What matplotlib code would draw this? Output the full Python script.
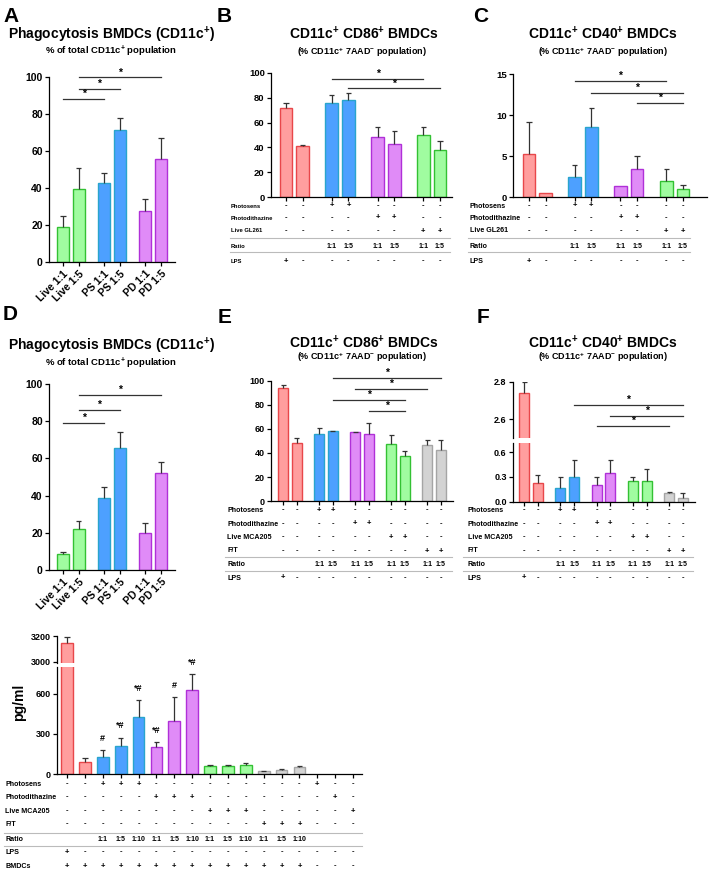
import matplotlib
matplotlib.use('Agg')
import matplotlib.pyplot as plt
from matplotlib.lines import Line2D
from matplotlib.transforms import blended_transform_factory

plt.rcParams['font.family'] = ['Liberation Sans', 'DejaVu Sans']
plt.rcParams['font.weight'] = 'bold'
plt.rcParams['mathtext.fontset'] = 'custom'
plt.rcParams['mathtext.rm'] = 'Liberation Sans:bold'
plt.rcParams['mathtext.it'] = 'Liberation Sans:bold'
plt.rcParams['mathtext.bf'] = 'Liberation Sans:bold'
plt.rcParams['axes.linewidth'] = 0.9

# ---------------- data ----------------
phago_labels = ['Live 1:1', 'Live 1:5', 'PS 1:1', 'PS 1:5', 'PD 1:1', 'PD 1:5']
phago_colors = ['g', 'g', 'b', 'b', 'p', 'p']
a_vals = [18.7, 39.3, 42.5, 71.6, 27.5, 55.5]
a_sem = [6.3, 11.3, 5.5, 6.4, 6.6, 11.3]
a_sig = [(0, 2, 88.0), (1, 3, 93.5), (1, 5, 99.8)]
d_vals = [8.4, 21.9, 38.5, 65.4, 20.1, 52.0]
d_sem = [1.5, 4.4, 6.1, 9.0, 5.0, 6.0]
d_sig = [(0, 2, 78.9), (1, 3, 86.0), (1, 5, 94.1)]

gl_colors = ['r', 'r', 'b', 'b', 'p', 'p', 'g', 'g']
gl_rows = [
    ('Photosens', ['-', '-', '+', '+', '-', '-', '-', '-']),
    ('Photodithazine', ['-', '-', '-', '-', '+', '+', '-', '-']),
    ('Live GL261', ['-', '-', '-', '-', '-', '-', '+', '+']),
    ('Ratio', ['', '', '1:1', '1:5', '1:1', '1:5', '1:1', '1:5']),
    ('LPS', ['+', '-', '-', '-', '-', '-', '-', '-']),
]
b_vals = [72.0, 41.3, 75.5, 78.0, 48.1, 42.4, 49.7, 37.8]
b_sem = [3.5, 0.5, 7.1, 5.7, 8.7, 11.1, 6.6, 7.0]
b_sig = [(2, 6, 95.1), (3, 7, 87.5)]
c_vals = [5.2, 0.53, 2.45, 8.5, 1.35, 3.47, 2.0, 1.02]
c_sem = [4.0, 0.0, 1.45, 2.3, 0.0, 1.47, 1.39, 0.41]
c_sig = [(2, 6, 14.2), (3, 7, 12.65), (5, 7, 11.47)]

mca_colors = ['r', 'r', 'b', 'b', 'p', 'p', 'g', 'g', 'k', 'k']
mca_rows = [
    ('Photosens', ['-', '-', '+', '+', '-', '-', '-', '-', '-', '-']),
    ('Photodithazine', ['-', '-', '-', '-', '+', '+', '-', '-', '-', '-']),
    ('Live MCA205', ['-', '-', '-', '-', '-', '-', '+', '+', '-', '-']),
    ('F/T', ['-', '-', '-', '-', '-', '-', '-', '-', '+', '+']),
    ('Ratio', ['', '', '1:1', '1:5', '1:1', '1:5', '1:1', '1:5', '1:1', '1:5']),
    ('LPS', ['+', '-', '-', '-', '-', '-', '-', '-', '-', '-']),
]
e_vals = [94.4, 48.3, 56.1, 58.1, 57.3, 55.9, 47.5, 37.2, 46.4, 42.7]
e_sem = [2.2, 4.2, 4.8, 0.6, 0.5, 9.2, 7.5, 4.7, 4.2, 7.9]
e_sig = [(3, 9, 102.5), (4, 8, 93.5), (3, 7, 84.0), (5, 7, 75.0)]
f_vals = [2.74, 0.23, 0.16, 0.30, 0.20, 0.35, 0.25, 0.25, 0.11, 0.05]
f_sem = [0.06, 0.09, 0.14, 0.20, 0.10, 0.15, 0.05, 0.15, 0.01, 0.05]
f_sig = [(3, 9, 2.678), (5, 9, 2.619), (4, 8, 2.566)]

g_colors = ['r', 'r', 'b', 'b', 'b', 'p', 'p', 'p', 'g', 'g', 'g', 'k', 'k', 'k', None, None, None]
g_vals = [3145, 92, 131, 213, 424, 201, 397, 632, 62, 62, 67, 22, 30, 55, 0, 0, 0]
g_sem = [45, 25, 50, 60, 129, 37, 181, 114, 3, 3, 13, 4, 6, 7, 0, 0, 0]
g_marks = ['', '', '#', '*#', '*#', '*#', '#', '*#', '', '', '', '', '', '', '', '', '']
g_rows = [
    ('Photosens', ['-', '-', '+', '+', '+', '-', '-', '-', '-', '-', '-', '-', '-', '-', '+', '-', '-']),
    ('Photodithazine', ['-', '-', '-', '-', '-', '+', '+', '+', '-', '-', '-', '-', '-', '-', '-', '+', '-']),
    ('Live MCA205', ['-', '-', '-', '-', '-', '-', '-', '-', '+', '+', '+', '-', '-', '-', '-', '-', '+']),
    ('F/T', ['-', '-', '-', '-', '-', '-', '-', '-', '-', '-', '-', '+', '+', '+', '-', '-', '-']),
    ('Ratio', ['', '', '1:1', '1:5', '1:10', '1:1', '1:5', '1:10', '1:1', '1:5', '1:10', '1:1', '1:5', '1:10', '', '', '']),
    ('LPS', ['+', '-', '-', '-', '-', '-', '-', '-', '-', '-', '-', '-', '-', '-', '-', '-', '-']),
    ('BMDCs', ['+', '+', '+', '+', '+', '+', '+', '+', '+', '+', '+', '+', '+', '+', '-', '-', '-']),
]

# ---------------- styles / layout ----------------
FILL = {'r': '#FF9E9E', 'b': '#4DA0FF', 'p': '#E08BF7', 'g': '#A0FCA0', 'k': '#D3D3D3'}
EDGE = {'r': '#E8474A', 'b': '#29A5CC', 'p': '#B030D8', 'g': '#33C133', 'k': '#A5A5A5'}
ERRC = '#333333'

W, H = 709, 872
fig = plt.figure(figsize=(W / 100, H / 100), dpi=100)


def px_axes(x0, ytop, x1, ybot):
    return fig.add_axes([x0 / W, 1 - ybot / H, (x1 - x0) / W, (ybot - ytop) / H])


def fy(y):
    return 1 - y / H


def draw_bars(ax, pos, vals, sems, cols, width, capw):
    for x, v, s, c in zip(pos, vals, sems, cols):
        if c is None:
            continue
        ax.bar(x, v, width=width, color=FILL[c], edgecolor=EDGE[c], linewidth=1.0, zorder=2)
        if s > 0:
            ax.vlines(x, v, v + s, color=ERRC, lw=0.9, zorder=3)
            ax.hlines(v + s, x - capw, x + capw, color=ERRC, lw=0.9, zorder=3)


def style(ax, xlim, ylim, yticks, ylabels, pos, fs, bottom=True):
    ax.set_xlim(*xlim)
    ax.set_ylim(*ylim)
    ax.spines[['top', 'right']].set_visible(False)
    ax.set_yticks(yticks)
    ax.set_yticklabels(ylabels, fontsize=fs, fontweight='bold')
    ax.tick_params(axis='y', length=3, width=0.9, pad=1.5)
    if bottom:
        ax.set_xticks(pos)
        ax.set_xticklabels([])
        ax.tick_params(axis='x', length=3, width=0.9)
    else:
        ax.spines['bottom'].set_visible(False)
        ax.set_xticks([])
    ax.patch.set_alpha(0)


def draw_sig(ax, pos, sigs, fs=7.5):
    for i, j, y in sigs:
        ax.plot([pos[i], pos[j]], [y, y], color=ERRC, lw=0.9, clip_on=False)
        ax.text((pos[i] + pos[j]) / 2, y, '*', ha='center', va='bottom', fontsize=fs, clip_on=False)


def draw_table(ax, pos, rows, row_y, label_x, lines_y, line_x, lfs, sfs=5.5):
    tr = blended_transform_factory(ax.transData, fig.transFigure)
    for (label, syms), y in zip(rows, row_y):
        fig.text(label_x / W, fy(y), label, fontsize=lfs, va='center', ha='left')
        for x, s in zip(pos, syms):
            fsz = sfs if s in ('-', '+') else 5
            ax.text(x, fy(y), s, transform=tr, fontsize=fsz, ha='center', va='center', clip_on=False)
    for ly in lines_y:
        fig.add_artist(Line2D([line_x[0] / W, line_x[1] / W], [fy(ly)] * 2, color='#BBBBBB', lw=0.8))


# ---------------- Panel A & D ----------------
pos6 = [0, 1, 2.6, 3.6, 5.2, 6.2]
for (ytop, ybot, vals, sems, sigs) in [(77, 262, a_vals, a_sem, a_sig), (384, 570, d_vals, d_sem, d_sig)]:
    ax = px_axes(49, ytop, 175, ybot)
    draw_bars(ax, pos6, vals, sems, phago_colors, 0.74, 0.17)
    style(ax, (-0.886, 7.09), (0, 100), [0, 20, 40, 60, 80, 100], ['0', '20', '40', '60', '80', '100'], pos6, 7.5)
    ax.set_xticklabels(phago_labels, rotation=45, ha='right', rotation_mode='anchor', fontsize=7.5)
    ax.tick_params(axis='x', pad=2)
    draw_sig(ax, pos6, sigs)

# ---------------- Panel B & C ----------------
pos8 = [0, 1, 2.75, 3.75, 5.5, 6.5, 8.25, 9.25]
tab_y_bc = [206, 218, 231, 246, 261]

axB = px_axes(271, 73, 452, 197)
draw_bars(axB, pos8, b_vals, b_sem, gl_colors, 0.76, 0.16)
style(axB, (-0.9, 9.97), (0, 100), [0, 20, 40, 60, 80, 100], ['0', '20', '40', '60', '80', '100'], pos8, 6.8)
draw_sig(axB, pos8, b_sig)
draw_table(axB, pos8, gl_rows, tab_y_bc, 231, [238, 252], (230, 450), 4.2)

axC = px_axes(513, 74, 707, 197)
draw_bars(axC, pos8, c_vals, c_sem, gl_colors, 0.76, 0.16)
style(axC, (-0.96, 10.7), (0, 15), [0, 5, 10, 15], ['0', '5', '10', '15'], pos8, 6.8)
draw_sig(axC, pos8, c_sig)
draw_table(axC, pos8, gl_rows, tab_y_bc, 470, [238, 252], (468, 690), 5.1)

# ---------------- Panel E & F ----------------
pos10 = [0, 1, 2.63, 3.63, 5.26, 6.26, 7.89, 8.89, 10.52, 11.52]
tab_y_ef = [510, 524, 537, 551, 564, 578]

axE = px_axes(271, 381, 453, 501)
draw_bars(axE, pos10, e_vals, e_sem, mca_colors, 0.73, 0.18)
style(axE, (-0.88, 12.4), (0, 100), [0, 20, 40, 60, 80, 100], ['0', '20', '40', '60', '80', '100'], pos10, 6.5)
draw_sig(axE, pos10, e_sig)
draw_table(axE, pos10, mca_rows, tab_y_ef, 227, [557, 571], (225, 452), 5.1)

axFl = px_axes(513, 443, 695, 501.7)
axFu = px_axes(513, 381.7, 695, 438)
for ax_, ylim, yt, yl, bot in [(axFl, (0, 0.71), [0, 0.3, 0.6], ['0.0', '0.3', '0.6'], True),
                               (axFu, (2.5, 2.8), [2.6, 2.8], ['2.6', '2.8'], False)]:
    draw_bars(ax_, pos10, f_vals, f_sem, mca_colors, 0.73, 0.18)
    style(ax_, (-0.8, 12.4), ylim, yt, yl, pos10, 6.5, bottom=bot)
draw_sig(axFu, pos10, f_sig)
draw_table(axFl, pos10, mca_rows, tab_y_ef, 468, [557, 571], (463, 693), 5.1)

# ---------------- Panel G ----------------
pos17 = list(range(17))
axGl = px_axes(57, 667, 362, 774)
axGu = px_axes(57, 636, 362, 663)
for ax_, ylim, yt, yl, bot in [(axGl, (0, 802), [0, 300, 600], ['0', '300', '600'], True),
                               (axGu, (2990, 3200), [3000, 3200], ['3000', '3200'], False)]:
    draw_bars(ax_, pos17, g_vals, g_sem, g_colors, 0.66, 0.15)
    style(ax_, (-0.56, 16.5), ylim, yt, yl, pos17, 6.5, bottom=bot)
for x, v, s, m in zip(pos17, g_vals, g_sem, g_marks):
    if m:
        axGl.annotate(m, (x, v + s), xytext=(0, 8.5), textcoords='offset points',
                      ha='center', va='center', fontsize=6.5, annotation_clip=False)
fig.text(19 / W, fy(702), 'pg/ml', rotation=90, fontsize=10, va='center', ha='center')
draw_table(axGl, pos17, g_rows, [784, 797, 811, 824, 839, 852, 866], 5, [833, 846], (4, 362), 5.1)

# ---------------- titles / letters ----------------
for letter, x, y in [('A', 3, 22), ('B', 217, 22), ('C', 473, 22), ('D', 3, 320), ('E', 218, 323), ('F', 477, 323)]:
    fig.text(x / W, fy(y), letter, fontsize=15, va='baseline', ha='left')

phago_title = 'Phagocytosis BMDCs (CD11c$^{+}$)'
phago_sub = '% of total CD11c$^{+}$ population'
cd86_title = 'CD11c$^{+}$ CD86$^{+}$ BMDCs'
cd40_title = 'CD11c$^{+}$ CD40$^{+}$ BMDCs'
pop_sub = '(% CD11c$^{+}$ 7AAD$^{-}$ population)'

fig.text(8 / W, fy(39), phago_title, fontsize=10, va='baseline', ha='left')
fig.text(111 / W, fy(54), phago_sub, fontsize=6.8, va='baseline', ha='center')
fig.text(8 / W, fy(350), phago_title, fontsize=10, va='baseline', ha='left')
fig.text(111 / W, fy(366), phago_sub, fontsize=6.8, va='baseline', ha='center')

fig.text(364 / W, fy(39), cd86_title, fontsize=10, va='baseline', ha='center')
fig.text(362 / W, fy(55), pop_sub, fontsize=6.5, va='baseline', ha='center')
fig.text(603 / W, fy(39), cd40_title, fontsize=10, va='baseline', ha='center')
fig.text(603 / W, fy(55), pop_sub, fontsize=6.5, va='baseline', ha='center')

fig.text(364 / W, fy(348), cd86_title, fontsize=10, va='baseline', ha='center')
fig.text(362 / W, fy(360), pop_sub, fontsize=6.5, va='baseline', ha='center')
fig.text(603 / W, fy(348), cd40_title, fontsize=10, va='baseline', ha='center')
fig.text(603 / W, fy(360), pop_sub, fontsize=6.5, va='baseline', ha='center')

fig.savefig('out.png', dpi=100, facecolor='white')
